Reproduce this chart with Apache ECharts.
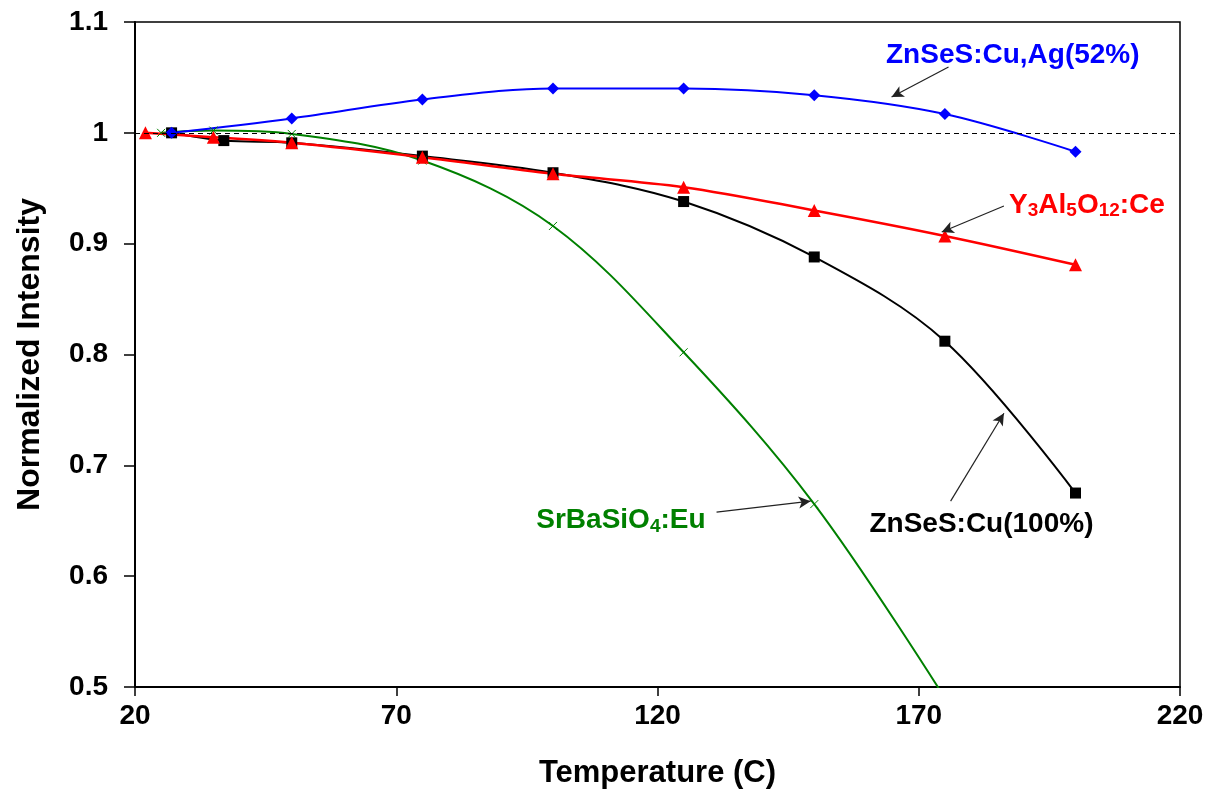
<!DOCTYPE html>
<html>
<head>
<meta charset="utf-8">
<script src="https://cdn.jsdelivr.net/npm/echarts@6/dist/echarts.min.js"></script>
<style>
  html, body { margin: 0; padding: 0; background: #fff; }
  #chart { width: 1208px; height: 799px; }
</style>
</head>
<body>
<div id="chart"></div>
<script>
// Thermal quenching of phosphors: intensity relative to room temperature
const xTicks = [20, 70, 120, 170, 220];
const yTicks = [0.5, 0.6, 0.7, 0.8, 0.9, 1.0, 1.1];

const tempCuAg = [27, 50, 75, 100, 125, 150, 175, 200];
const intCuAg  = [1.000, 1.013, 1.030, 1.040, 1.040, 1.034, 1.017, 0.983];

const tempCu = [27, 37, 50, 75, 100, 125, 150, 175, 200];
const intCu  = [1.000, 0.993, 0.991, 0.979, 0.964, 0.938, 0.888, 0.812, 0.675];

const tempYAG = [22, 35, 50, 75, 100, 125, 150, 175, 200];
const intYAG  = [1.000, 0.996, 0.991, 0.978, 0.963, 0.951, 0.930, 0.907, 0.881];

const tempSrBa = [25, 35, 50, 75, 100, 125, 150, 175];
const intSrBa  = [1.000, 1.002, 0.999, 0.975, 0.916, 0.802, 0.665, 0.490];

const pairs = (xs, ys) => xs.map((x, i) => [x, ys[i]]);

// Callout text and arrows, placed in data coordinates
const callouts = [
  { text: 'ZnSeS:Cu,Ag(52%)', color: '#0000ff', at: [188.0, 1.070], from: [175.7, 1.0594], to: [164.8, 1.0323] },
  { text: 'Y{s|3}Al{s|5}O{s|12}:Ce', color: '#ff0000', at: [202.2, 0.935], from: [186.3, 0.934], to: [174.4, 0.9105] },
  { text: 'SrBaSiO{s|4}:Eu', color: '#008000', at: [113.0, 0.650], from: [131.3, 0.6578], to: [149.3, 0.6677] },
  { text: 'ZnSeS:Cu(100%)', color: '#000000', at: [182.0, 0.647], from: [176.1, 0.6677], to: [186.3, 0.747] }
];

const FONT = "'Liberation Sans', Arial, sans-serif";
const chart = echarts.init(document.getElementById('chart'), null, { renderer: 'canvas' });

const lineSeries = (name, data, color, symbol, size, width, extra) => Object.assign({
  name, type: 'line', data, smooth: 0.35, clip: true,
  symbol, symbolSize: size,
  lineStyle: { color, width },
  itemStyle: { color },
  emphasis: { disabled: true },
  z: 3
}, extra || {});

chart.setOption({
  animation: false,
  backgroundColor: '#fff',
  grid: { left: 135, top: 22, right: 28, bottom: 112, show: true, borderColor: '#000', borderWidth: 1.5, containLabel: false },
  xAxis: {
    type: 'value', min: 20, max: 220, interval: 50,
    name: 'Temperature (C)', nameLocation: 'middle', nameGap: 71,
    nameTextStyle: { fontFamily: FONT, fontWeight: 'bold', fontSize: 31, color: '#000' },
    axisLine: { lineStyle: { color: '#000', width: 2 } },
    axisTick: { show: true, inside: false, length: 9, lineStyle: { color: '#000', width: 1.5 } },
    axisLabel: { margin: 15, fontFamily: FONT, fontWeight: 'bold', fontSize: 28, color: '#000' },
    splitLine: { show: false }
  },
  yAxis: {
    type: 'value', min: 0.5, max: 1.1, interval: 0.1,
    name: 'Normalized Intensity', nameLocation: 'middle', nameGap: 89, nameRotate: 90,
    nameTextStyle: { fontFamily: FONT, fontWeight: 'bold', fontSize: 32, color: '#000' },
    axisLine: { lineStyle: { color: '#000', width: 2 } },
    axisTick: { show: true, inside: false, length: 11, lineStyle: { color: '#000', width: 1.5 } },
    axisLabel: {
      margin: 27, fontFamily: FONT, fontWeight: 'bold', fontSize: 28, color: '#000',
      formatter: v => String(parseFloat(v.toFixed(1)))
    },
    splitLine: { show: false }
  },
  series: [
    lineSeries('ZnSeS:Cu(100%)', pairs(tempCu, intCu), '#000000', 'rect', 11, 2),
    lineSeries('SrBaSiO4:Eu', pairs(tempSrBa, intSrBa), '#008000', 'path://M0,0L10,10M10,0L0,10', 8, 2, {
      itemStyle: { color: 'none', borderColor: '#008000', borderWidth: 1 }
    }),
    lineSeries('Y3Al5O12:Ce', pairs(tempYAG, intYAG), '#ff0000', 'triangle', 13, 2.5),
    lineSeries('ZnSeS:Cu,Ag(52%)', pairs(tempCuAg, intCuAg), '#0000ff', 'diamond', 12, 2),
    {
      // reference level and callout arrows
      name: 'guides', type: 'line', data: [], silent: true, z: 2,
      markLine: {
        silent: true, animation: false,
        label: { show: false },
        emphasis: { disabled: true },
        data: [
          [{ coord: [20, 1], symbol: 'none', lineStyle: { type: [5, 4], color: '#000', width: 1 } },
           { coord: [220, 1], symbol: 'none' }]
        ].concat(callouts.map(c => [
          { coord: c.from, symbol: 'none', lineStyle: { type: 'solid', color: '#222', width: 1.2 } },
          { coord: c.to, symbol: 'arrow', symbolSize: [9, 12] }
        ]))
      }
    }
  ]
});

// callout labels
chart.setOption({
  graphic: callouts.map(c => {
    const p = chart.convertToPixel({ gridIndex: 0 }, c.at);
    return {
      type: 'text', x: p[0], y: p[1], z: 10, silent: true,
      style: {
        text: c.text, fill: c.color,
        font: 'bold 28px ' + FONT,
        align: 'center', verticalAlign: 'middle',
        rich: { s: { fontSize: 19, fontWeight: 'bold', fontFamily: FONT, fill: c.color, verticalAlign: 'bottom', padding: [12, 0, 0, 0] } }
      }
    };
  })
});
</script>
</body>
</html>
